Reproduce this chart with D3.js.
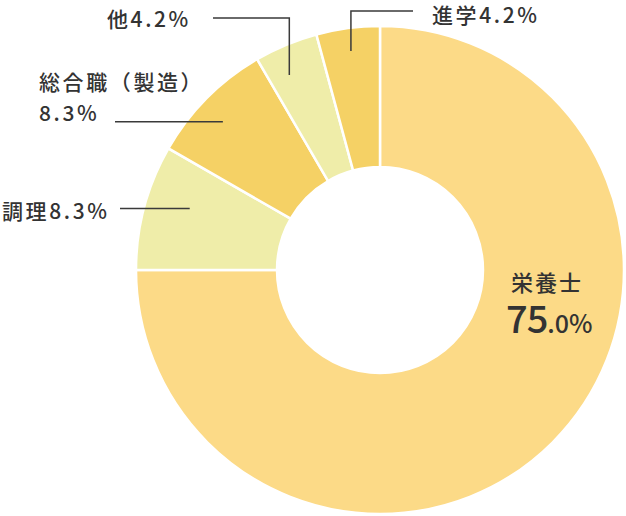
<!DOCTYPE html>
<html><head><meta charset="utf-8">
<script src="https://cdn.jsdelivr.net/npm/d3@7"></script>
<style>
html,body{margin:0;padding:0;background:#fff;}
svg{display:block;font-family:"Noto Sans CJK JP","Noto Sans",sans-serif;}
</style></head>
<body>
<svg id="c" width="626" height="516"></svg>
<script>
const categories = ["栄養士", "調理", "総合職（製造）", "他", "進学"];
const values = [75.0, 8.3, 8.3, 4.2, 4.2];
const valueLabels = ["75.0%", "8.3%", "8.3%", "4.2%", "4.2%"];
const colors = ["#FCDA87", "#EFEDA9", "#F5D165", "#EFEDA9", "#F5D165"];

const W = 626, H = 516;
const cx = 380, cy = 270, rOuter = 244, rInner = 103;
const svg = d3.select("#c");
const g = svg.append("g").attr("transform", `translate(${cx},${cy})`);

const pie = d3.pie().sort(null).value(d => d.v);
const data = categories.map((c, i) => ({c, v: values[i], col: colors[i], lab: valueLabels[i]}));
const arcs = pie(data);
const arc = d3.arc().innerRadius(rInner).outerRadius(rOuter);

g.selectAll("path").data(arcs).enter().append("path")
  .attr("d", arc).attr("fill", d => d.data.col)
  .attr("stroke", "#fff").attr("stroke-width", 2.5);

const ink = "#333";
function polar(a, r) { return [Math.sin(a) * r, -Math.cos(a) * r]; }

const leaders = [
  null,
  {frac: 0.6, r: 200, pts: [[120, null]], text: [[2, 219, 1]]},
  {frac: 0.45, r: 216, pts: [[115, null]], text: [[39, 90, 2], [39, 121, 3]]},
  {frac: 0.35, r: 215, pts: [[null, 18], [213, 18]], text: [[107, 27, 1]]},
  {frac: 0.5, r: 221, pts: [[null, 11], [413, 11]], text: [[432, 23, 1]]}
];

arcs.forEach((d, i) => {
  const L = leaders[i];
  if (!L) return;
  const a = d.startAngle + (d.endAngle - d.startAngle) * L.frac;
  let [x0, y0] = polar(a, L.r);
  x0 += cx; y0 += cy;
  let pts = [[x0, y0]];
  let px = x0, py = y0;
  L.pts.forEach(p => {
    const nx = p[0] === null ? px : p[0];
    const ny = p[1] === null ? py : p[1];
    pts.push([nx, ny]); px = nx; py = ny;
  });
  svg.append("path").attr("d", d3.line()(pts))
    .attr("fill", "none").attr("stroke", "#3a3a3a").attr("stroke-width", 1.5);
  L.text.forEach(t => {
    let s;
    if (i === 2) s = t[2] === 2 ? d.data.c : d.data.lab;
    else s = d.data.c + d.data.lab;
    svg.append("text").attr("x", t[0]).attr("y", t[1])
      .attr("font-size", 21).attr("font-weight", 500).attr("letter-spacing", 2.6)
      .attr("fill", ink).text(s);
  });
});

const main = arcs[0];
svg.append("text").attr("x", 547).attr("y", 291).attr("text-anchor", "middle")
  .attr("font-size", 22).attr("font-weight", 500).attr("letter-spacing", 2).attr("fill", ink).text(main.data.c);
const big = svg.append("text").attr("x", 506).attr("y", 333).attr("fill", ink).attr("font-weight", 500);
const parts = main.data.lab.match(/^(\d+)(.*)$/);
big.append("tspan").attr("font-size", 38).attr("letter-spacing", -1).text(parts[1]);
big.append("tspan").attr("font-size", 25).attr("letter-spacing", 0).text(parts[2]);
</script>
</body></html>
